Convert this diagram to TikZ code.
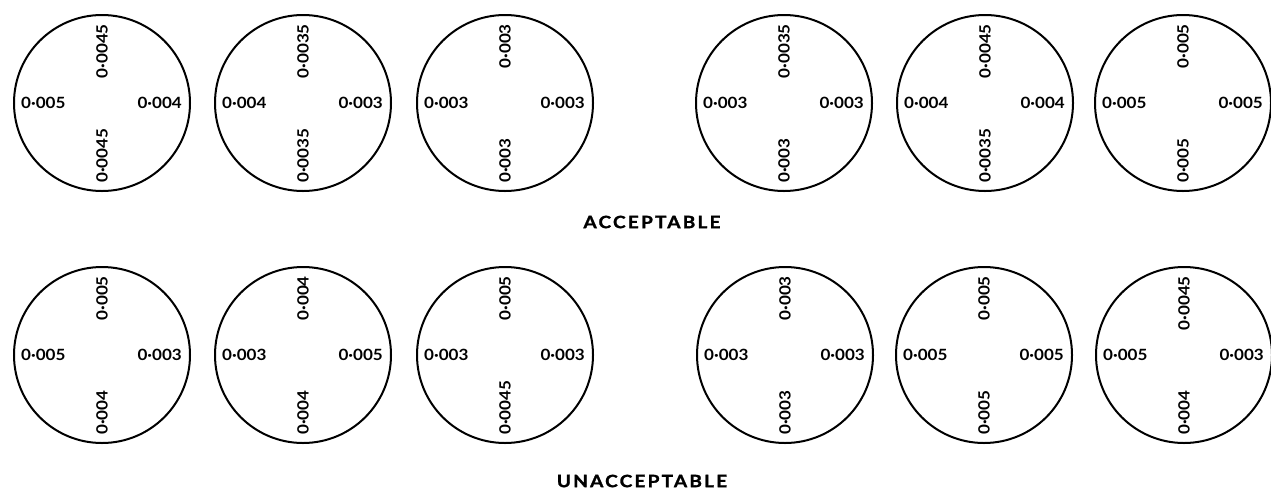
\documentclass[tikz,border=0pt]{standalone}
\usepackage{fontspec}
\setmainfont{Lato}
\newfontfamily\valfont[FakeStretch=1.1]{Lato}
\newfontfamily\capfont[LetterSpace=13,FakeStretch=1.12,FakeBold=1.6]{Lato}
\usetikzlibrary{positioning}
\newcommand{\gap}[1]{0·#1}

\begin{document}
\begin{tikzpicture}[x=1pt,y=-1pt,
    ring/.style={draw,circle,line width=2pt,minimum size=176pt,inner sep=0pt},
    val/.style={font=\valfont\bfseries\fontsize{15.5}{16}\selectfont,inner sep=0pt},
    verdict/.style={font=\capfont\bfseries\fontsize{17}{18}\selectfont,inner sep=0pt},
  ]
  \useasboundingbox (0,0) rectangle (1271,491);

  % upper row: acceptable clearances (top/right/bottom/left)
  \foreach \n/\cx/\t/\r/\b/\l in {a1/102/0045/004/0045/005, a2/303/0035/003/0035/004,
      a3/505/003/003/003/003, a4/784/0035/003/003/003,
      a5/985/0045/004/0035/004, a6/1183/005/005/005/005} {
    \node[ring] (\n) at (\cx,103) {};
    \node[val,anchor=west] (\n-l) at ([xshift=8pt]\n.west) {\gap{\l}};
    \node[val,anchor=east] (\n-r) at ([xshift=-9pt]\n.east) {\gap{\r}};
    \node[val,rotate=90,anchor=east] (\n-t) at ([yshift=-10pt]\n.north) {\gap{\t}};
    \node[val,rotate=90,anchor=west] (\n-b) at ([yshift=9pt]\n.south) {\gap{\b}};
  }
  \node[verdict] (acc) at (652,222) {ACCEPTABLE};

  % lower row: unacceptable clearances
  \foreach \n/\cx/\t/\r/\b/\l in {u1/102/005/003/004/005, u2/303/004/005/004/003,
      u3/505/005/003/0045/003, u4/785/003/003/003/003,
      u5/984/005/005/005/005, u6/1184/0045/003/004/005} {
    \node[ring] (\n) at (\cx,355) {};
    \node[val,anchor=west] (\n-l) at ([xshift=8pt]\n.west) {\gap{\l}};
    \node[val,anchor=east] (\n-r) at ([xshift=-9pt]\n.east) {\gap{\r}};
    \node[val,rotate=90,anchor=east] (\n-t) at ([yshift=-10pt]\n.north) {\gap{\t}};
    \node[val,rotate=90,anchor=west] (\n-b) at ([yshift=9pt]\n.south) {\gap{\b}};
  }
  \node[verdict] (unacc) at (642,481) {UNACCEPTABLE};
\end{tikzpicture}
\end{document}
